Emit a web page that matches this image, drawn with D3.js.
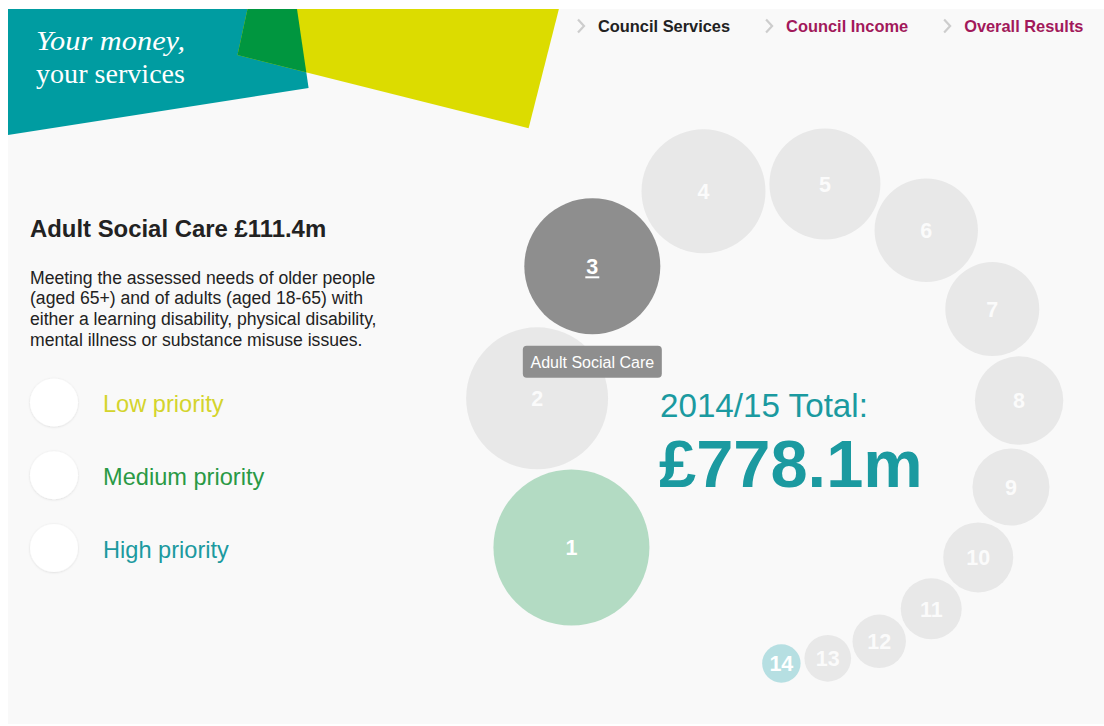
<!DOCTYPE html>
<html>
<head>
<meta charset="utf-8">
<script src="https://cdn.jsdelivr.net/npm/d3@7"></script>
<style>
  html, body { margin: 0; padding: 0; background: #fff; }
  svg { display: block; }
  text { font-family: "Liberation Sans", Arial, sans-serif; }
</style>
</head>
<body>
<div id="chart"></div>
<script>
'use strict';

// services, ranked 1..14 round the ring
const ranks  = [1, 2, 3, 4, 5, 6, 7, 8, 9, 10, 11, 12, 13, 14];
const spend  = [146.6, 121.4, 111.4, 92.6, 74.2, 64.4, 53.2, 47.1, 35.7, 29.5, 22.4, 17.2, 13.1, 8.9]; // £m
const status = ['medium', 'none', 'selected', 'none', 'none', 'none', 'none',
                'none', 'none', 'none', 'none', 'none', 'none', 'high'];

const selectedName  = 'Adult Social Care';
const selectedSpend = '£111.4m';
const description   = [
  'Meeting the assessed needs of older people',
  '(aged 65+) and of adults (aged 18-65) with',
  'either a learning disability, physical disability,',
  'mental illness or substance misuse issues.'
];
const priorities = ['Low priority', 'Medium priority', 'High priority'];
const navItems   = ['Council Services', 'Council Income', 'Overall Results'];
const totalLabel = '2014/15 Total:';
const totalValue = '£778.1m';

const width  = 1104;
const height = 726;

const svg = d3.select('#chart').append('svg')
    .attr('width', width)
    .attr('height', height);

const defs = svg.append('defs');
defs.append('filter').attr('id', 'soft')
    .attr('x', '-30%').attr('y', '-30%').attr('width', '160%').attr('height', '160%')
  .append('feDropShadow')
    .attr('dx', 0).attr('dy', 0.5)
    .attr('stdDeviation', 1.3)
    .attr('flood-color', '#000')
    .attr('flood-opacity', 0.13);

const tealShape   = [[8, 9], [297, 9], [308.6, 88], [8, 135]];
const yellowShape = [[247.5, 9], [558.9, 9], [528.6, 128.3], [237.5, 55]];
defs.append('clipPath').attr('id', 'tealClip')
  .append('polygon').attr('points', tealShape.join(' '));

// page background
svg.append('rect')
    .attr('x', 8).attr('y', 9)
    .attr('width', width - 8).attr('height', height - 11)
    .attr('fill', '#f9f9f9');

// ---- logo ----
const logo = svg.append('g');
logo.append('polygon').attr('points', tealShape.join(' ')).attr('fill', '#009ca1');
logo.append('polygon').attr('points', yellowShape.join(' ')).attr('fill', '#dcdc00');
logo.append('polygon').attr('points', yellowShape.join(' '))
    .attr('fill', '#00963f').attr('clip-path', 'url(#tealClip)');
logo.append('text')
    .attr('x', 36).attr('y', 50)
    .attr('textLength', 149).attr('lengthAdjust', 'spacingAndGlyphs')
    .style('font-family', '"Liberation Serif", "DejaVu Serif", serif')
    .style('font-style', 'italic')
    .style('font-size', '27px')
    .attr('fill', '#fff')
    .text('Your money,');
logo.append('text')
    .attr('x', 36).attr('y', 82.5)
    .attr('textLength', 149).attr('lengthAdjust', 'spacingAndGlyphs')
    .style('font-family', '"Liberation Serif", "DejaVu Serif", serif')
    .style('font-size', '27px')
    .attr('fill', '#fff')
    .text('your services');

// ---- navigation ----
const nav = svg.append('g');
let navX = 578;
navItems.forEach(function(item, i) {
    nav.append('path')
        .attr('d', 'M' + navX + ',19.5 L' + (navX + 6) + ',26 L' + navX + ',32.5')
        .attr('fill', 'none')
        .attr('stroke', '#cdcdcd')
        .attr('stroke-width', 2.2);
    const t = nav.append('text')
        .attr('x', navX + 20).attr('y', 32)
        .style('font-size', '16.4px')
        .style('font-weight', 'bold')
        .attr('fill', i === 0 ? '#222' : '#a2195b')
        .text(item);
    navX += 20 + t.node().getComputedTextLength() + 36;
});

// ---- left panel ----
const left = svg.append('g');
left.append('text')
    .attr('x', 30).attr('y', 237)
    .style('font-size', '23.9px')
    .style('font-weight', 'bold')
    .attr('fill', '#222')
    .text(selectedName + ' ' + selectedSpend);

left.selectAll('text.desc')
    .data(description)
    .enter().append('text')
    .attr('class', 'desc')
    .attr('x', 30)
    .attr('y', function(d, i) { return 283.5 + i * 20.8; })
    .style('font-size', '17.6px')
    .attr('fill', '#222')
    .text(function(d) { return d; });

const prioColor = d3.scaleOrdinal()
    .domain(priorities)
    .range(['#d4d42c', '#2a9945', '#1c9aa0']);
const prioY = d3.scalePoint()
    .domain(priorities)
    .range([402.5, 548]);

const legend = left.selectAll('g.legend')
    .data(priorities)
    .enter().append('g')
    .attr('class', 'legend')
    .attr('transform', function(d) { return 'translate(54,' + prioY(d) + ')'; });
legend.append('circle')
    .attr('r', 24)
    .attr('fill', '#fff')
    .attr('filter', 'url(#soft)');
legend.append('text')
    .attr('x', 49).attr('y', 9.5)
    .style('font-size', '23.6px')
    .attr('fill', function(d) { return prioColor(d); })
    .text(function(d) { return d; });

// ---- ring of services ----
const rScale = d3.scaleSqrt()
    .domain([0, d3.max(spend)])
    .range([0, 78]);

const fill = d3.scaleOrdinal()
    .domain(['none', 'selected', 'medium', 'high'])
    .range(['#e8e8e8', '#8e8e8e', '#b3dbc3', '#b6dfe2']);

const ring = { cx: 778, cy: 421.5, r: 242, start: 148.6, gap: 4.15 };

// place each circle on the ring, just clear of the one before it
let angle = ring.start * Math.PI / 180;
const nodes = ranks.map(function(rank, i) {
    const r = rScale(spend[i]);
    if (i > 0) {
        const chord = rScale(spend[i - 1]) + r + ring.gap;
        angle += 2 * Math.asin(chord / (2 * ring.r));
    }
    return {
        rank: rank,
        status: status[i],
        r: r,
        x: ring.cx + ring.r * Math.cos(angle),
        y: ring.cy + ring.r * Math.sin(angle)
    };
});

const bubbles = svg.append('g').selectAll('g.bubble')
    .data(nodes)
    .enter().append('g')
    .attr('class', 'bubble')
    .attr('transform', function(d) { return 'translate(' + d.x + ',' + d.y + ')'; });

bubbles.append('circle')
    .attr('r', function(d) { return d.r; })
    .attr('fill', function(d) { return fill(d.status); });

bubbles.append('text')
    .attr('text-anchor', 'middle')
    .attr('dy', '0.36em')
    .style('font-size', '21.5px')
    .style('font-weight', 'bold')
    .attr('fill', '#fff')
    .attr('fill-opacity', function(d) { return d.status === 'none' ? 0.85 : 1; })
    .text(function(d) { return d.rank; });

// underline on the selected number
bubbles.filter(function(d) { return d.status === 'selected'; })
  .append('line')
    .attr('x1', -7).attr('x2', 7)
    .attr('y1', 11).attr('y2', 11)
    .attr('stroke', '#fff')
    .attr('stroke-width', 2);

// tooltip under the selected service
const sel = nodes.find(function(d) { return d.status === 'selected'; });
const tip = svg.append('g')
    .attr('transform', 'translate(' + sel.x + ',' + (sel.y + sel.r + 11.5) + ')');
tip.append('rect')
    .attr('x', -69.5).attr('y', 0)
    .attr('width', 139).attr('height', 32)
    .attr('rx', 4)
    .attr('fill', '#8e8e8e');
tip.append('text')
    .attr('text-anchor', 'middle')
    .attr('y', 22)
    .style('font-size', '16px')
    .attr('fill', '#fff')
    .text(selectedName);

// ---- total ----
svg.append('text')
    .attr('x', 660).attr('y', 416.5)
    .style('font-size', '33.2px')
    .attr('fill', '#1b9aa0')
    .text(totalLabel);
svg.append('text')
    .attr('x', 659).attr('y', 487)
    .style('font-size', '66.8px')
    .style('font-weight', 'bold')
    .attr('fill', '#1b9aa0')
    .text(totalValue);
</script>
</body>
</html>
